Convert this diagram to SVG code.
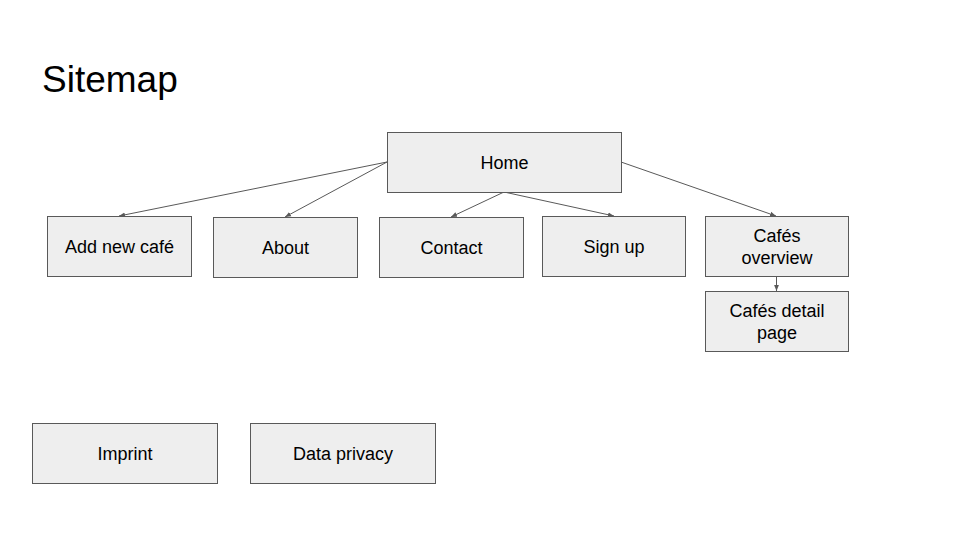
<svg xmlns="http://www.w3.org/2000/svg" width="960" height="540" viewBox="0 0 960 540">
<style>
.box{fill:#eeeeee;stroke:#595959;stroke-width:1}
.lbl{font-family:"Liberation Sans",Arial,sans-serif;font-size:18px;fill:#000;text-anchor:middle}
.con{stroke:#595959;stroke-width:1;fill:none;marker-end:url(#ah)}
</style>
<defs>
<marker id="ah" viewBox="0 0 10 10" refX="10" refY="5" markerWidth="6" markerHeight="6" orient="auto" markerUnits="userSpaceOnUse">
<path d="M0,1 L10,5 L0,9 z" fill="#595959"/>
</marker>
</defs>
<rect width="960" height="540" fill="#ffffff"/>
<text x="42" y="92" font-family="'Liberation Sans',Arial,sans-serif" font-size="37" fill="#000">Sitemap</text>
<g id="connectors">
<line class="con" x1="387" y1="162" x2="119" y2="216"/>
<line class="con" x1="387" y1="162" x2="285" y2="217"/>
<line class="con" x1="504" y1="192" x2="451" y2="217"/>
<line class="con" x1="504" y1="192" x2="614" y2="216"/>
<line class="con" x1="621" y1="162" x2="776" y2="216"/>
<line class="con" x1="776.5" y1="276" x2="776.5" y2="291"/>
</g>
<g id="home"><rect class="box" x="387.5" y="132.5" width="234" height="60"/><text class="lbl" x="504.5" y="169">Home</text></g>
<g id="add-new-cafe"><rect class="box" x="47.5" y="216.5" width="144" height="60"/><text class="lbl" x="119.5" y="253">Add new café</text></g>
<g id="about"><rect class="box" x="213.5" y="217.5" width="144" height="60"/><text class="lbl" x="285.5" y="254">About</text></g>
<g id="contact"><rect class="box" x="379.5" y="217.5" width="144" height="60"/><text class="lbl" x="451.5" y="254">Contact</text></g>
<g id="sign-up"><rect class="box" x="542.5" y="216.5" width="143" height="60"/><text class="lbl" x="614" y="253">Sign up</text></g>
<g id="cafes-overview"><rect class="box" x="705.5" y="216.5" width="143" height="60"/><text class="lbl" x="777" y="242">Cafés</text><text class="lbl" x="777" y="264">overview</text></g>
<g id="cafes-detail"><rect class="box" x="705.5" y="291.5" width="143" height="60"/><text class="lbl" x="777" y="317">Cafés detail</text><text class="lbl" x="777" y="339">page</text></g>
<g id="imprint"><rect class="box" x="32.5" y="423.5" width="185" height="60"/><text class="lbl" x="125" y="460">Imprint</text></g>
<g id="data-privacy"><rect class="box" x="250.5" y="423.5" width="185" height="60"/><text class="lbl" x="343" y="460">Data privacy</text></g>
</svg>
